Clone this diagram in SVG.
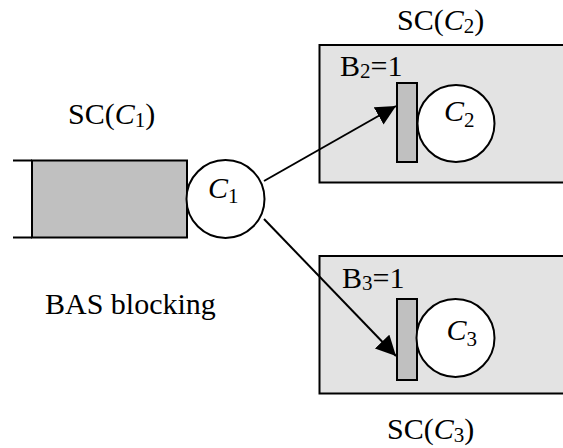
<svg xmlns="http://www.w3.org/2000/svg" width="563" height="448" viewBox="0 0 563 448">
  <style>
    text { font-family: "Liberation Serif", "Times New Roman", serif; font-size: 30px; fill: #000; }
    .it { font-style: italic; }
    .sub { font-size: 21px; }
    .stn { fill: #e3e3e3; stroke: #000; stroke-width: 2; }
    .buf { fill: #c0c0c0; stroke: #000; stroke-width: 2; }
    .srv { fill: #fff; stroke: #000; stroke-width: 2; }
    .edge { fill: none; stroke: #000; stroke-width: 2; }
  </style>
  <defs>
    <marker id="arrow" markerUnits="userSpaceOnUse" markerWidth="21" markerHeight="21" refX="20" refY="10" orient="auto">
      <path d="M0,0 L20,10 L0,20 z" fill="#000"/>
    </marker>
  </defs>

  <!-- upstream station C1 with its buffer -->
  <g id="station-c1">
    <text x="68" y="124">SC(<tspan class="it">C</tspan><tspan class="sub" dy="3">1</tspan><tspan dy="-3">)</tspan></text>
    <path class="edge" d="M13,160.5 H32 M13,237.5 H32"/>
    <rect class="buf" x="32" y="160.5" width="155" height="77"/>
    <circle class="srv" cx="225.5" cy="199" r="39"/>
    <text x="208" y="198" class="it">C<tspan class="sub" dy="5" font-style="normal">1</tspan></text>
  </g>

  <g id="label-bas">
    <text x="45" y="314">BAS blocking</text>
  </g>

  <!-- downstream station C2 (open path: the box runs on past the right edge) -->
  <g id="station-c2">
    <text x="397" y="30">SC(<tspan class="it">C</tspan><tspan class="sub" dy="3">2</tspan><tspan dy="-3">)</tspan></text>
    <path class="stn" d="M580,45 H319.5 V182.5 H580"/>
    <text x="340" y="76">B<tspan class="sub" dy="2">2</tspan><tspan dy="-2">=1</tspan></text>
    <rect class="buf" x="397" y="83" width="20" height="79"/>
    <circle class="srv" cx="456" cy="123.5" r="38.5"/>
    <text x="444" y="121" class="it">C<tspan class="sub" dy="6" font-style="normal">2</tspan></text>
  </g>

  <!-- downstream station C3 -->
  <g id="station-c3">
    <path class="stn" d="M580,256 H319.5 V393.5 H580"/>
    <text x="342" y="288">B<tspan class="sub" dy="2">3</tspan><tspan dy="-2">=1</tspan></text>
    <rect class="buf" x="397" y="299" width="20" height="81"/>
    <circle class="srv" cx="455.5" cy="338" r="39"/>
    <text x="446.5" y="340" class="it">C<tspan class="sub" dy="6" font-style="normal">3</tspan></text>
    <text x="387" y="439">SC(<tspan class="it">C</tspan><tspan class="sub" dy="3">3</tspan><tspan dy="-3">)</tspan></text>
  </g>

  <!-- routing from C1 to the downstream buffers -->
  <g id="connectors">
    <line class="edge" x1="264" y1="181" x2="396" y2="106" marker-end="url(#arrow)"/>
    <line class="edge" x1="264" y1="219" x2="396" y2="356" marker-end="url(#arrow)"/>
  </g>
</svg>
